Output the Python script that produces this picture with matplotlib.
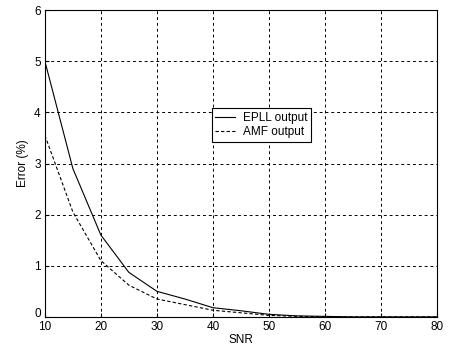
import matplotlib
matplotlib.use("Agg")
import matplotlib.pyplot as plt
import matplotlib.transforms as mtransforms

snr = [10, 15, 20, 25, 30, 35, 40, 45, 50, 55, 60, 65, 70, 75, 80]
epll = [5.0, 2.9, 1.6, 0.87, 0.5, 0.35, 0.18, 0.12, 0.05, 0.02, 0.01, 0.0, 0.0, 0.0, 0.0]
amf = [3.55, 2.05, 1.1, 0.62, 0.35, 0.24, 0.13, 0.08, 0.03, 0.01, 0.0, 0.0, 0.0, 0.0, 0.0]

plt.rcParams['font.family'] = ['Liberation Sans', 'DejaVu Sans']
plt.rcParams['font.size'] = 8.5

fig = plt.figure(figsize=(4.49, 3.49), dpi=100)
ax = fig.add_axes([0.1, 0.092, 0.873, 0.879])

ax.plot(snr, epll, "k-", lw=0.8, label="EPLL output")
ax.plot(snr, amf, "k--", lw=0.8, dashes=(3, 2), label="AMF output")

ax.set_xlim(10, 80)
ax.set_ylim(0, 6)
ax.set_xticks(range(10, 81, 10))
ax.set_yticks(range(0, 7))
ax.grid(True, color="k", linestyle=(0, (3, 3)), lw=0.7)
ax.tick_params(direction="in", length=3, pad=3)
for s in ax.spines.values():
    s.set_linewidth(0.8)

# nudge the y "0" up a bit so it doesn't sit on the x "10"
fig.canvas.draw()
lbl0 = ax.get_yticklabels()[0]
lbl0.set_transform(lbl0.get_transform() + mtransforms.ScaledTranslation(0, 3 / 72, fig.dpi_scale_trans))

ax.set_xlabel("SNR", labelpad=1)
ax.set_ylabel("Error (%)", labelpad=4)

leg = ax.legend(loc="upper left", bbox_to_anchor=(0.426, 0.68), fancybox=False,
                framealpha=1, edgecolor="k", handlelength=1.7, handletextpad=0.6,
                borderpad=0.3, labelspacing=0.2, borderaxespad=0)
leg.get_frame().set_linewidth(0.8)

fig.savefig("out.png", dpi=100)
